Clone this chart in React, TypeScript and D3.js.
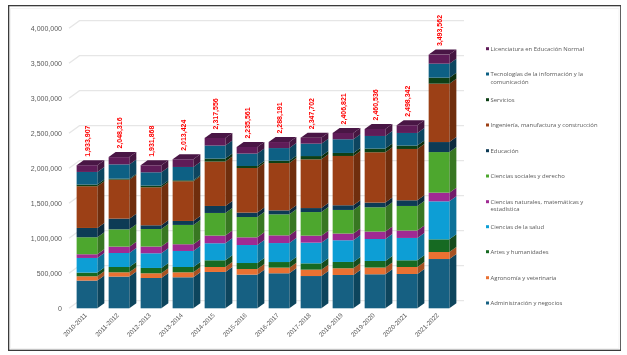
import React from 'react'
import * as d3 from 'd3'

const years = ['2010-2011', '2011-2012', '2012-2013', '2013-2014', '2014-2015', '2015-2016', '2016-2017', '2017-2018', '2018-2019', '2019-2020', '2020-2021', '2021-2022']

// values, bottom of the stack first
const admin = [396000, 453000, 433000, 443000, 519000, 481000, 500000, 461000, 476000, 486000, 490000, 704000]
const agro = [61000, 61000, 67000, 71000, 71000, 80000, 81000, 91000, 96000, 96000, 100000, 100000]
const artes = [53000, 76000, 76000, 76000, 96000, 86000, 80000, 90000, 90000, 94000, 96000, 181000]
const salud = [209000, 200000, 210000, 229000, 243000, 257000, 271000, 296000, 310000, 314000, 319000, 543000]
const naturales = [53000, 91000, 96000, 96000, 110000, 110000, 110000, 100000, 96000, 106000, 106000, 124000]
const sociales = [243000, 247000, 251000, 276000, 323000, 290000, 300000, 337000, 337000, 347000, 351000, 580000]
const educacion = [133000, 153000, 53000, 57000, 100000, 63000, 57000, 57000, 67000, 67000, 81000, 143000]
const ingenieria = [596000, 557000, 543000, 567000, 634000, 637000, 676000, 696000, 704000, 719000, 733000, 834000]
const servicios = [24000, 14000, 24000, 14000, 43000, 29000, 34000, 47000, 43000, 53000, 49000, 86000]
const tic = [180000, 204000, 190000, 190000, 186000, 177000, 180000, 177000, 196000, 180000, 180000, 200000]
const licenciatura = [96000, 104000, 100000, 110000, 109000, 94000, 86000, 86000, 90000, 100000, 110000, 129000]

const totals = ['1,933,907', '2,048,316', '1,931,868', '2,013,424', '2,317,556', '2,235,561', '2,288,191', '2,347,702', '2,406,821', '2,460,536', '2,498,342', '3,493,562']

const seriesValues = [admin, agro, artes, salud, naturales, sociales, educacion, ingenieria, servicios, tic, licenciatura]
const seriesColors = ['#156082', '#E97132', '#196B24', '#0F9ED5', '#A02B93', '#4EA72E', '#0E3A55', '#9C4013', '#0F4016', '#0F6184', '#5F1A58']

// legend rows from top to bottom
const legendRows = [
  { lines: ['Licenciatura en Educación Normal'], color: '#5F1A58', y: 48.7 },
  { lines: ['Tecnologías de la información y la', 'comunicación'], color: '#0F6184', y: 74 },
  { lines: ['Servicios'], color: '#0F4016', y: 99.7 },
  { lines: ['Ingeniería, manufactura y construcción'], color: '#9C4013', y: 125 },
  { lines: ['Educación'], color: '#0E3A55', y: 150.7 },
  { lines: ['Ciencias sociales y derecho'], color: '#4EA72E', y: 176 },
  { lines: ['Ciencias naturales, matemáticas y', 'estadística'], color: '#A02B93', y: 201.7 },
  { lines: ['Ciencias de la salud'], color: '#0F9ED5', y: 226.7 },
  { lines: ['Artes y humanidades'], color: '#196B24', y: 251.7 },
  { lines: ['Agronomía y veterinaria'], color: '#E97132', y: 277.7 },
  { lines: ['Administración y negocios'], color: '#156082', y: 303 },
]

const depthX = 7
const depthY = 5
const wallX = 10.5
const wallY = 7.6

const x = d3.scaleBand<string>().domain(years).range([71, 455]).paddingInner(0.353).paddingOuter(0.176)
const y = d3.scaleLinear().domain([0, 4000000]).range([308.3, 28.3])
const fmt = d3.format(',')

const rows = years.map((yr, i) => {
  const row: Record<string, number | string> = { year: yr }
  seriesValues.forEach((s, k) => { row[`s${k}`] = s[i] })
  return row
})
const stacked = d3.stack<any>().keys(seriesValues.map((_, k) => `s${k}`))(rows)

const darker = (c: string, k: number) => d3.rgb(c).darker(k).formatHex()

export default function App() {
  const w = x.bandwidth()
  const sans = '"Liberation Sans", Arial, sans-serif'

  return (
    <svg width={627} height={355} style={{ position: 'absolute', left: 0, top: 0, background: '#fff' }}>
      {/* the reference is a soft, low resolution capture */}
      <filter id="soft" x="0" y="0" width="100%" height="100%">
        <feGaussianBlur stdDeviation={0.4} />
      </filter>
      <g filter="url(#soft)">
        <rect x={8.5} y={5.5} width={612.5} height={345} fill="#fff" stroke="#3a3a3a" strokeWidth={1.6} />
        <rect x={10.5} y={8.5} width={608.5} height={340} fill="none" stroke="#f3f3f3" />

        {y.ticks(8).map(t => (
          <g key={t}>
            <path
              d={`M69,${y(t)}L${69 + wallX},${y(t) - wallY}L464,${y(t) - wallY}`}
              fill="none"
              stroke="#e6e6e6"
              strokeWidth={1.3}
            />
            <text x={62} y={y(t)} dy="0.35em" textAnchor="end" fontFamily={sans} fontSize={7} fill="#595959">
              {fmt(t)}
            </text>
          </g>
        ))}

        {years.map((yr, i) => {
          const x0 = x(yr) as number
          const top = stacked[stacked.length - 1][i][1]
          return (
            <g key={yr}>
              {stacked.map((s, k) => {
                const y0 = y(s[i][0])
                const y1 = y(s[i][1])
                const c = seriesColors[k]
                return (
                  <g key={k}>
                    <polygon
                      points={`${x0 + w},${y0} ${x0 + w + depthX},${y0 - depthY} ${x0 + w + depthX},${y1 - depthY} ${x0 + w},${y1}`}
                      fill={darker(c, 0.95)}
                    />
                    <rect x={x0} y={y1} width={w} height={y0 - y1} fill={c} />
                  </g>
                )
              })}
              <polygon
                points={`${x0},${y(top)} ${x0 + depthX},${y(top) - depthY} ${x0 + w + depthX},${y(top) - depthY} ${x0 + w},${y(top)}`}
                fill={darker(seriesColors[10], 0.7)}
              />
              <text
                transform={`translate(${x0 + w / 2 + 3.2},${y(top) - depthY - 3.5}) rotate(-90)`}
                fontFamily={sans}
                fontSize={7}
                fontWeight="bold"
                fill="#FF0000"
              >
                {totals[i]}
              </text>
              <text
                transform={`translate(${x0 + w / 2 - 1},${314.5}) rotate(-45)`}
                textAnchor="end"
                dominantBaseline="middle"
                fontFamily={sans}
                fontSize={6.4}
                fill="#595959"
              >
                {yr}
              </text>
            </g>
          )
        })}

        {legendRows.map(r => (
          <g key={r.lines[0]}>
            <rect x={486} y={r.y - 1.5} width={3} height={3} fill={r.color} />
            {r.lines.map((l, n) => (
              <text
                key={l}
                x={490.5}
                y={r.y + n * 7.6}
                dy="0.35em"
                fontFamily='"Open Sans", sans-serif'
                fontSize={5.9}
                fill="#595959"
              >
                {l}
              </text>
            ))}
          </g>
        ))}
      </g>
    </svg>
  )
}
